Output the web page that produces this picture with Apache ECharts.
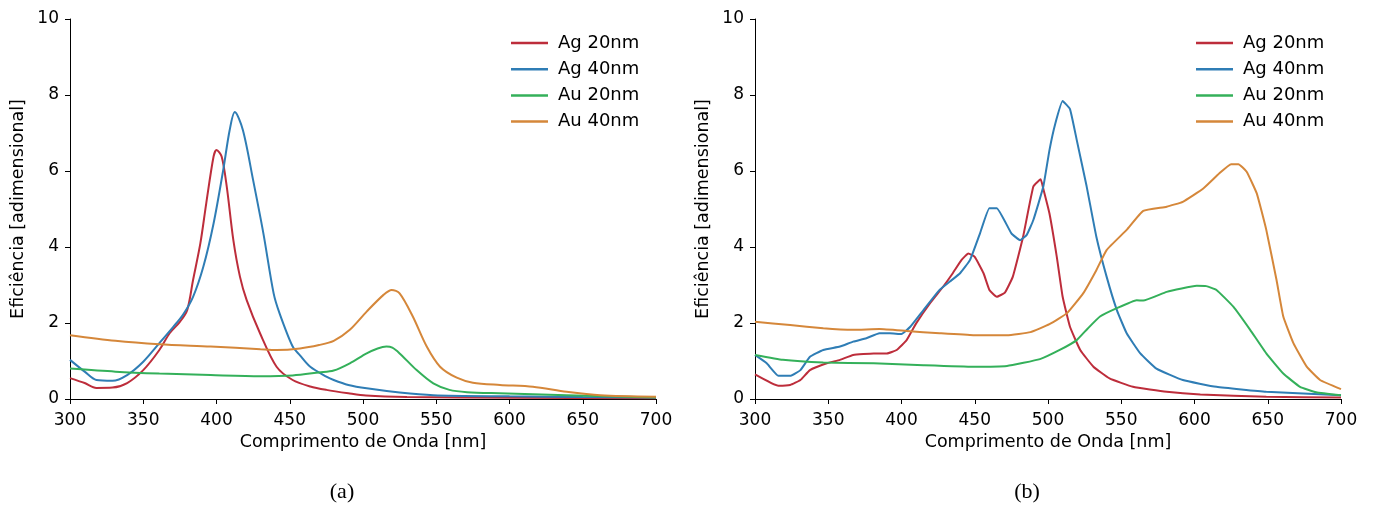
<!DOCTYPE html>
<html>
<head>
<meta charset="utf-8">
<script src="https://cdn.jsdelivr.net/npm/echarts@6/dist/echarts.min.js"></script>
<style>
  html, body { margin: 0; padding: 0; background: #fff; }
  #chart { width: 1374px; height: 507px; }
</style>
</head>
<body>
<div id="chart"></div>
<script>
// nomes das curvas
var names = ['Ag 20nm', 'Ag 40nm', 'Au 20nm', 'Au 40nm'];
var colors = ['#bd2d3b', '#2f7db5', '#34b05a', '#d5873a'];

// (a) - [comprimento de onda, eficiencia]
var agA20 = [[300,0.55],[310,0.42],[318,0.29],[329,0.30],[339,0.42],[350,0.76],[361,1.29],[368,1.73],[375,2.03],[380,2.34],[384,3.13],[389,4.1],[393,5.15],[398,6.38],[400,6.55],[403.5,6.38],[407,5.59],[411.5,4.18],[416,3.22],[420.6,2.6],[429.7,1.73],[441,0.85],[452,0.5],[464,0.33],[475,0.24],[490,0.15],[502,0.09],[530,0.05],[600,0.03],[700,0.02]];
var agA40 = [[300,1.03],[310,0.72],[318,0.5],[329,0.48],[339,0.63],[350,0.98],[361,1.47],[370.5,1.9],[377,2.21],[384,2.69],[391,3.48],[398,4.62],[404.6,6.03],[409,7.08],[412.5,7.55],[418,7.08],[425,5.76],[432,4.36],[439,2.78],[443,2.26],[452,1.38],[457,1.15],[464,0.85],[475,0.59],[480,0.5],[490,0.37],[502.5,0.28],[525,0.17],[548,0.1],[600,0.07],[650,0.05],[700,0.04]];
var auA20 = [[300,0.8],[331,0.72],[361,0.67],[396,0.63],[430,0.6],[452,0.62],[470,0.7],[480,0.75],[491,0.94],[502.5,1.2],[510,1.33],[516,1.38],[520,1.35],[525,1.2],[536.6,0.76],[548,0.41],[559,0.24],[571,0.18],[593,0.15],[639,0.1],[700,0.04]];
var auA40 = [[300,1.68],[331,1.53],[361,1.44],[396,1.38],[430,1.31],[441,1.29],[457,1.33],[470,1.42],[480,1.53],[491,1.82],[502.5,2.3],[514,2.74],[519.6,2.87],[525,2.78],[534,2.17],[543.5,1.38],[552.6,0.85],[564,0.56],[575,0.43],[593.5,0.37],[616,0.32],[639,0.19],[662,0.1],[700,0.06]];

// (b)
var agB20 = [[300,0.65],[316,0.35],[324,0.37],[331,0.5],[337.5,0.76],[349,0.94],[358,1.03],[367,1.16],[381,1.2],[390,1.2],[396.7,1.29],[403.5,1.55],[410,1.99],[419.5,2.52],[428.5,2.96],[435,3.31],[441,3.66],[445.6,3.83],[450,3.74],[456,3.31],[460,2.87],[465,2.69],[470.6,2.8],[476,3.22],[483,4.27],[490,5.59],[495,5.78],[497,5.5],[501,4.88],[506,3.74],[510,2.69],[515,1.9],[522,1.29],[531,0.85],[542,0.54],[558,0.32],[581,0.19],[604,0.12],[649,0.06],[700,0.04]];
var agB40 = [[300,1.16],[308,0.94],[316,0.61],[324,0.61],[331,0.76],[337.5,1.11],[346.6,1.29],[358,1.38],[367,1.51],[376,1.6],[385,1.73],[392,1.73],[400,1.71],[406,1.9],[415,2.34],[426,2.87],[433,3.09],[440,3.31],[446.8,3.66],[453.6,4.36],[460,5.02],[465,5.02],[475,4.36],[481,4.18],[485.5,4.32],[490,4.71],[496.8,5.59],[501,6.55],[505,7.25],[510,7.84],[515,7.63],[519.6,6.82],[526.4,5.59],[533,4.27],[540,3.22],[547,2.34],[553.7,1.73],[563,1.2],[574,0.8],[592,0.5],[615,0.32],[649,0.19],[700,0.1]];
var auB20 = [[300,1.16],[319,1.03],[346.6,0.96],[381,0.94],[415,0.89],[449,0.85],[472,0.87],[494.5,1.05],[508,1.29],[519.6,1.55],[527,1.85],[535.5,2.17],[547,2.39],[560.5,2.6],[565,2.59],[581,2.82],[601.5,2.98],[608,2.97],[615,2.87],[626.5,2.43],[638,1.82],[649,1.2],[660.6,0.67],[672,0.32],[683,0.18],[700,0.1]];
var auB40 = [[300,2.03],[324,1.95],[346.6,1.86],[367,1.82],[385,1.84],[403.5,1.79],[426,1.73],[449,1.68],[472,1.68],[488,1.76],[501,1.97],[513,2.26],[524,2.78],[533,3.39],[540,3.92],[553.7,4.45],[565,4.95],[581,5.06],[592,5.19],[606,5.54],[617,5.94],[625,6.18],[630,6.18],[635.6,5.98],[642.5,5.41],[649,4.45],[656,3.13],[660.6,2.17],[667.5,1.47],[676.6,0.85],[685.7,0.5],[700,0.26]];

var xTicks = [300, 700, 50];
var yTicks = [0, 10, 2];

var font = 'DejaVu Sans';
var panels = [[agA20, agA40, auA20, auA40], [agB20, agB40, auB20, auB40]];
var gridLeft = [70, 755];

function axisX(i) {
    return {
        type: 'value', gridIndex: i, min: xTicks[0], max: xTicks[1], interval: xTicks[2],
        name: 'Comprimento de Onda [nm]', nameLocation: 'middle', nameGap: 34,
        nameTextStyle: {fontFamily: font, fontSize: 17.5, color: '#000'},
        axisLine: {lineStyle: {color: '#000', width: 1}},
        axisTick: {length: 5, lineStyle: {color: '#000'}},
        axisLabel: {fontFamily: font, fontSize: 17, color: '#000', margin: 13},
        splitLine: {show: false}
    };
}
function axisY(i) {
    return {
        type: 'value', gridIndex: i, min: yTicks[0], max: yTicks[1], interval: yTicks[2],
        name: 'Eficiência [adimensional]', nameLocation: 'middle', nameGap: 43,
        nameTextStyle: {fontFamily: font, fontSize: 17.5, color: '#000'},
        axisLine: {show: true, lineStyle: {color: '#000', width: 1}},
        axisTick: {show: true, length: 5, lineStyle: {color: '#000'}},
        axisLabel: {fontFamily: font, fontSize: 17, color: '#000', margin: 11},
        splitLine: {show: false}
    };
}

var series = [];
panels.forEach(function (p, i) {
    p.forEach(function (d, k) {
        series.push({
            name: names[k], type: 'line', xAxisIndex: i, yAxisIndex: i,
            data: d, symbol: 'none', smooth: i === 0 ? 0.3 : 0.12,
            lineStyle: {color: colors[k], width: 2},
            itemStyle: {color: colors[k]},
            z: 2 + k
        });
    });
});

var legendCommon = {
    orient: 'vertical', icon: 'rect', itemWidth: 37, itemHeight: 2.5, itemGap: 8.2,
    padding: 0, data: names, selectedMode: false,
    textStyle: {fontFamily: font, fontSize: 18, color: '#000', padding: [0, 0, 0, 5]}
};

var chart = echarts.init(document.getElementById('chart'), null, {renderer: 'canvas'});
chart.setOption({
    animation: false,
    backgroundColor: '#fff',
    grid: [
        {left: gridLeft[0], top: 19, width: 586, height: 380},
        {left: gridLeft[1], top: 19, width: 586, height: 380}
    ],
    xAxis: [axisX(0), axisX(1)],
    yAxis: [axisY(0), axisY(1)],
    legend: [
        Object.assign({left: 511, top: 34}, legendCommon),
        Object.assign({left: 1196, top: 34}, legendCommon)
    ],
    graphic: [
        {type: 'text', x: 342, y: 492, style: {text: '(a)', font: '22px "Liberation Serif"', fill: '#000', align: 'center', verticalAlign: 'middle'}},
        {type: 'text', x: 1027, y: 492, style: {text: '(b)', font: '22px "Liberation Serif"', fill: '#000', align: 'center', verticalAlign: 'middle'}}
    ],
    series: series
});
</script>
</body>
</html>
